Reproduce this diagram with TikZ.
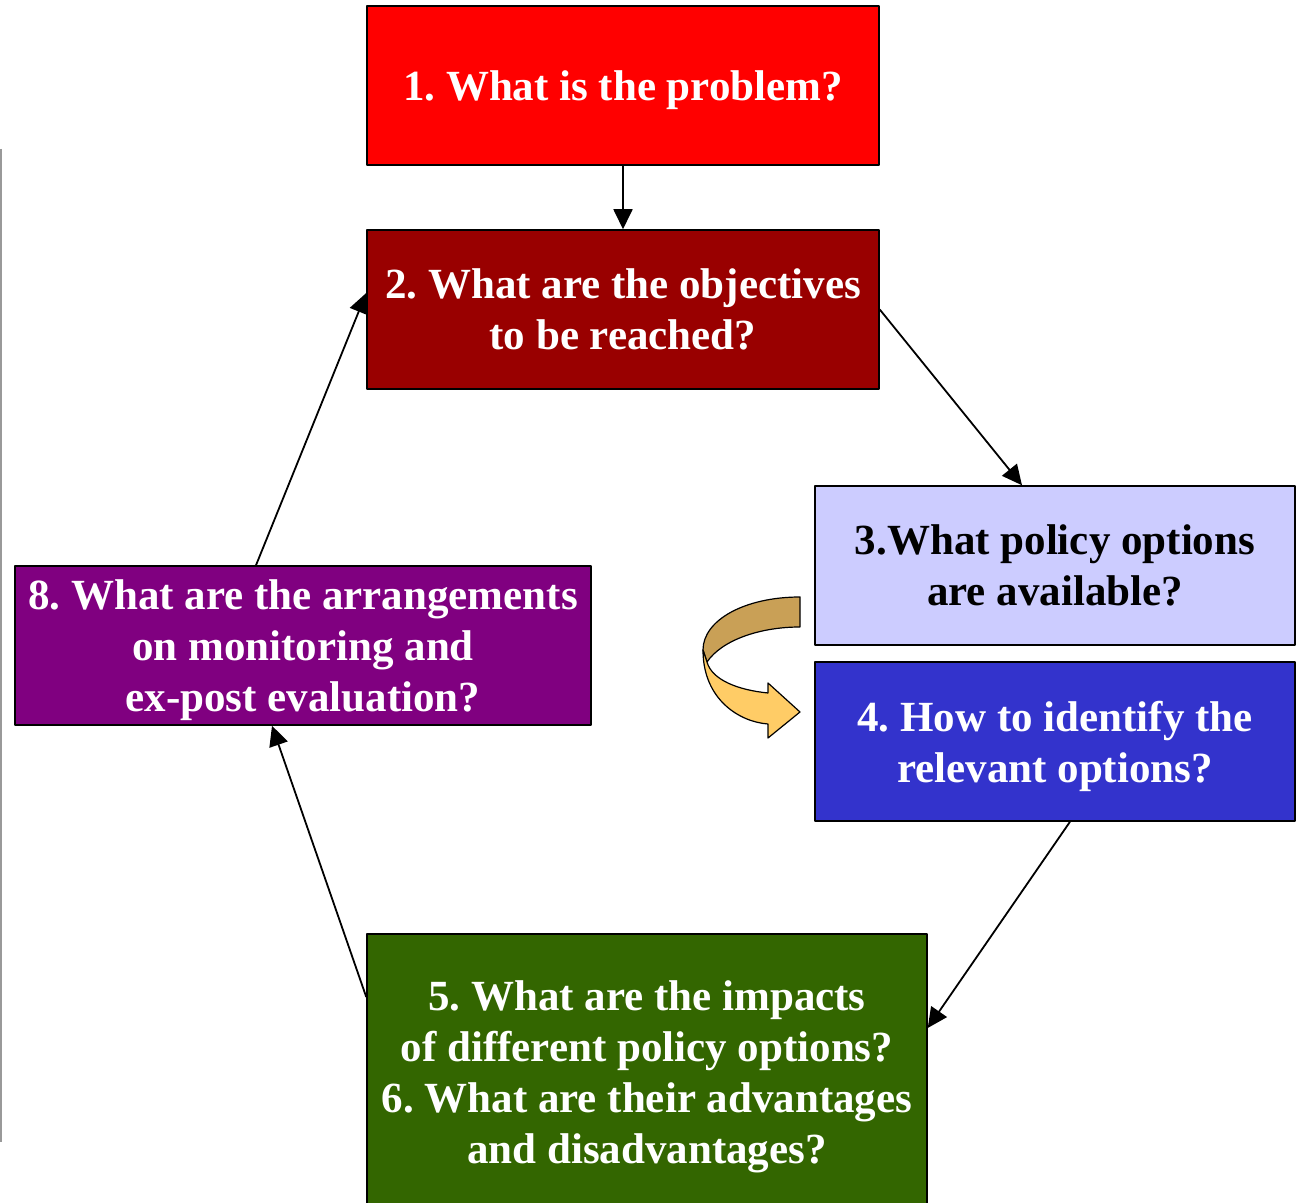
\documentclass[tikz,border=0pt]{standalone}
\usepackage{fontspec}
\setmainfont{Liberation Serif}
\usetikzlibrary{calc, positioning, arrows.meta}
\definecolor{problemC}{HTML}{FF0000}
\definecolor{objectC}{HTML}{990000}
\definecolor{optionC}{HTML}{CCCCFF}
\definecolor{identC}{HTML}{3333CC}
\definecolor{impactC}{HTML}{336600}
\definecolor{monitorC}{HTML}{800080}
\definecolor{turnDark}{HTML}{C9A056}
\definecolor{turnLight}{HTML}{FFCC66}
\definecolor{sideC}{HTML}{999999}
\def\lwBox{0.75pt}
\def\lwLink{0.9pt}
\def\lwTurn{0.6pt}
\frenchspacing

\begin{document}
\begin{tikzpicture}[x=0.5pt, y=-0.5pt, line join=round,
  stepbox/.style={draw=black, line width=\lwBox, align=center, text=white,
    font=\fontsize{21.5}{25.5}\selectfont\bfseries, inner sep=0pt,
    text depth=0pt, minimum height=79.5pt},
  link/.style={line width=\lwLink, -{Triangle[length=10pt, width=9.5pt]}}]

  \clip (0,0) rectangle (1303,1203);

  % Side rule
  \draw[sideC, line width=1pt] (1,149) -- (1,1142);

  % Boxes
  \node[stepbox, fill=problemC, minimum width=256pt] (problem) at (623,85.5)
    {1. What is the problem?};
  \node[stepbox, fill=objectC, minimum width=256pt] (object) at (623,309.5)
    {2. What are the objectives\\to be reached?};
  \node[stepbox, fill=optionC, text=black, minimum width=240pt] (option) at (1055,565.5)
    {3.What policy options\\are available?};
  \node[stepbox, fill=identC, minimum width=240pt] (ident) at (1055,741.5)
    {4. How to identify the\\relevant options?};
  \node[stepbox, fill=impactC, minimum width=280pt, minimum height=138pt] (impact) at (647,1072)
    {5. What are the impacts\\of different policy options?\\6. What are their advantages\\and disadvantages?};
  \node[stepbox, fill=monitorC, minimum width=288pt] (monitor) at (303,645.5)
    {8. What are the arrangements\\on monitoring and\\ex-post evaluation?};

  % Cycle
  \draw[link] (problem.south) -- (object.north);
  \draw[link] (object.east) -- ([xshift=-16.5pt]option.north);
  \draw[link] ([xshift=7.5pt]ident.south) -- ([yshift=22pt]impact.east);
  \draw[link] ([yshift=37.5pt]impact.west) -- ([xshift=-15.5pt]monitor.south);
  \draw[link] ([xshift=-23.5pt]monitor.north) -- ([yshift=8.25pt]object.west);

  % Turning arrow from 3 to 4
  \draw[line width=\lwTurn, fill=turnDark]
    (800,597) .. controls (745,597) and (703,620) .. (703,650)
    -- (707,662) .. controls (722,640) and (760,627) .. (800,627) -- cycle;
  \draw[line width=\lwTurn, fill=turnLight]
    (703,650) .. controls (703,700) and (740,722) .. (768,724)
    -- (768,738) -- (800,712) -- (768,683) -- (768,693)
    .. controls (738,690) and (712,680) .. (707,662) -- cycle;
\end{tikzpicture}
\end{document}
